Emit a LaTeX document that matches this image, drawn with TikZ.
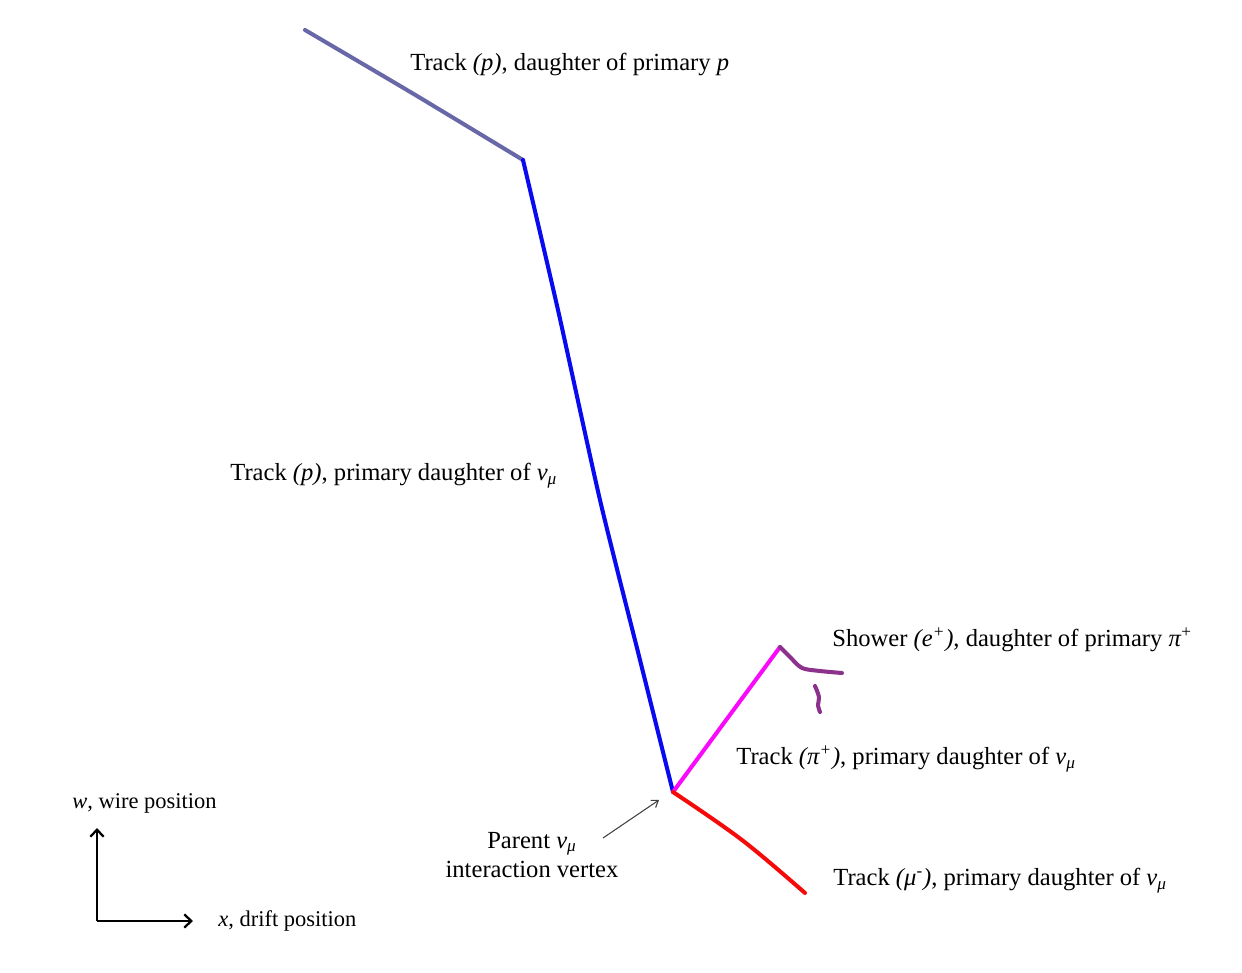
\documentclass[tikz,border=0pt]{standalone}
\usepackage{fontspec}
\setmainfont{Liberation Serif}
\usetikzlibrary{arrows.meta}
\definecolor{dghtr}{RGB}{104,104,168}
\definecolor{trkblue}{RGB}{10,10,240}
\definecolor{pimag}{RGB}{250,10,250}
\definecolor{shwr}{RGB}{140,50,140}
\definecolor{murd}{RGB}{245,10,10}
\newcommand{\numu}{\textit{ν}\textsubscript{\textit{μ}}}
\tikzset{
    trk/.style={line width=2.3pt,line cap=round,line join=round},
    lbl/.style={anchor=west,inner sep=0pt,font=\fontsize{14}{17}\selectfont},
    axlbl/.style={anchor=west,inner sep=0pt,font=\fontsize{12.8}{15}\selectfont},
    axis/.style={line width=1.3pt,-{Straight Barb[length=4pt,width=7.5pt,line width=1.3pt]}}
}
\begin{document}
\begin{tikzpicture}[x=0.02cm,y=-0.02cm]
        \useasboundingbox(0,0)rectangle(1242,973);
        \coordinate(vtx)at(673,792);
        \coordinate(kink)at(523,160);
        \coordinate(pitop)at(780,647);
        \draw[trk,dghtr]plot[smooth,tension=0.4]coordinates{(305,30)(412,93)(kink)};
        \draw[trk,trkblue]plot[smooth,tension=0.4]coordinates{(kink)(558,310)(600,500)(640,660)(vtx)};
        \draw[trk,pimag](vtx)--(pitop);
        \draw[trk,murd]plot[smooth,tension=0.6]coordinates{(vtx)(742,840)(805,893)};
        \draw[trk,shwr]plot[smooth,tension=0.5]coordinates{(pitop)(790,657)(802,668)(820,671)(842,673)};
        \draw[trk,shwr]plot[smooth,tension=0.6]coordinates{(815,686)(819,697)(818,705)(820,712)};
        \node[lbl](pdau)at(410,64){Track \textit{(p)}, daughter of primary \textit{p}};
        \node[lbl](pprim)at(230,476){Track \textit{(p)}, primary daughter of \numu};
        \node[lbl](shower)at(832,640){Shower \textit{(e\textsuperscript{+})}, daughter of primary \textit{π}\textsuperscript{+}};
        \node[lbl](pion)at(736,759){Track \textit{(π\textsuperscript{+})}, primary daughter of \numu};
        \node[lbl](muon)at(833,881){Track \textit{(μ\textsuperscript{-})}, primary daughter of \numu};
        \node[inner sep=1pt,align=center,font=\fontsize{14}{17}\selectfont](parent)at(532,855){Parent \numu\\interaction vertex};
        \coordinate(tip)at(659,800);
        \draw[black!75,line width=0.6pt,-{Straight Barb[length=3.5pt,width=5pt]}](603,838)--(tip);
        \coordinate(orig)at(97,921);
        \draw[axis](orig)--(97,828);
        \draw[axis](orig)--(193,921);
        \node[axlbl](wax)at(72,803){\textit{w}, wire position};
        \node[axlbl](xax)at(218,921){\textit{x}, drift position};
    \end{tikzpicture}
\end{document}
